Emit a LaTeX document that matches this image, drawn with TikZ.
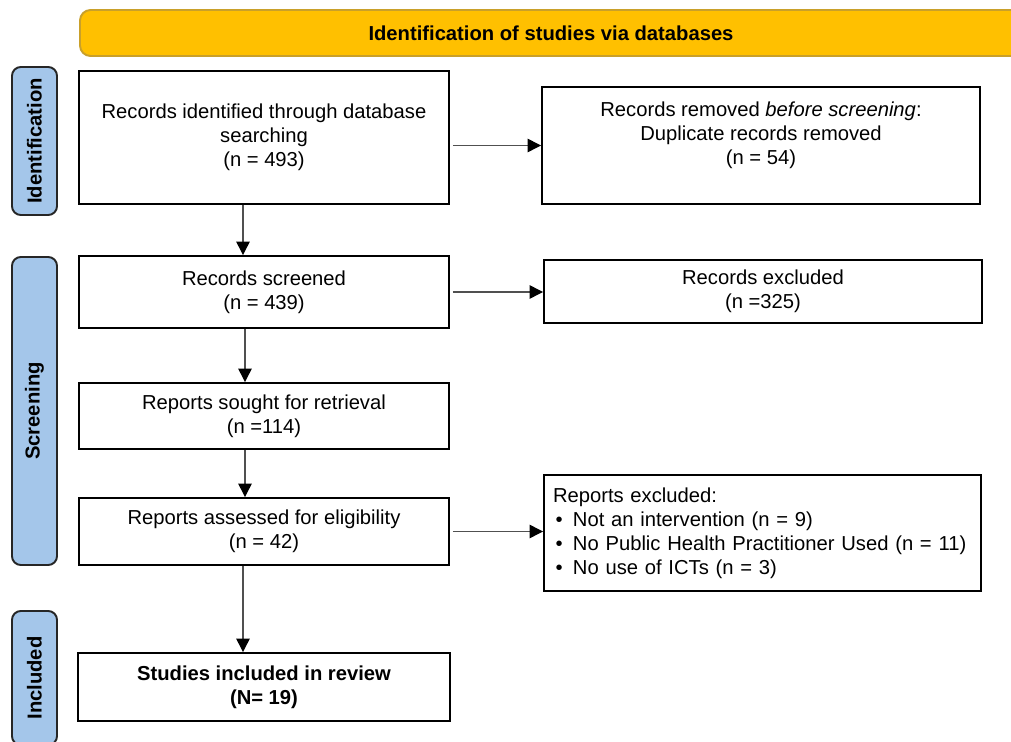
\documentclass[tikz,border=0pt]{standalone}
\usepackage{fontspec}
\setmainfont{Liberation Sans}
\usepackage{xcolor}
\usetikzlibrary{arrows.meta, positioning, calc}
\definecolor{bannerfill}{HTML}{FFC000}
\definecolor{bannerline}{HTML}{C9A02A}
\definecolor{phasefill}{HTML}{A4C6EA}
\definecolor{arrline}{HTML}{505050}

\begin{document}
\begin{tikzpicture}[
        font=\fontsize{11.5}{13.7}\selectfont,
        box/.style={draw=black, line width=1.1pt, fill=white, align=center, inner sep=0pt},
        phase/.style={draw=black!85, line width=1.1pt, fill=phasefill, rounded corners=5pt, rotate=90,
            minimum height=0.9cm, font=\fontsize{11.5}{13.7}\selectfont\bfseries},
        banner/.style={draw=bannerline, line width=1.1pt, fill=bannerfill, rounded corners=6pt,
            font=\fontsize{11.5}{13.7}\selectfont\bfseries},
        arr/.style={draw=arrline, line width=0.8pt, -{Triangle[length=2.7mm, width=2.7mm, color=black]}}
    ]
        \useasboundingbox (0,0) rectangle (20.22,-14.84);
        \clip (0,0) rectangle (20.22,-14.84);

        % header and phase bars
        \node[banner, minimum width=18.84cm, minimum height=0.92cm] (banner) at (11.02,-0.66) {Identification of studies via databases};
        \node[phase, minimum width=2.96cm] (idphase) at (0.69,-2.82) {Identification};
        \node[phase, minimum width=6.16cm] (scrphase) at (0.69,-8.22) {Screening};
        \node[phase, minimum width=2.68cm] (incphase) at (0.69,-13.56) {Included};

        % main column
        \node[box, minimum width=7.4cm, minimum height=2.66cm] (rec) at (5.28,-2.75) {Records identified through database\\searching\\(n = 493)};
        \node[box, minimum width=7.4cm, minimum height=1.44cm] (scr) at (5.28,-5.84) {Records screened\\(n = 439)};
        \node[box, minimum width=7.4cm, minimum height=1.32cm] (sought) at (5.28,-8.32) {Reports sought for retrieval\\(n =114)};
        \node[box, minimum width=7.4cm, minimum height=1.34cm] (assess) at (5.28,-10.63) {Reports assessed for eligibility\\(n = 42)};
        \node[box, minimum width=7.44cm, minimum height=1.36cm, font=\fontsize{11.5}{13.7}\selectfont\bfseries] (inc) at (5.28,-13.74) {Studies included in review\\(N= 19)};

        % side column
        \node[box, minimum width=8.76cm, minimum height=2.34cm] (dup) at (15.22,-2.91) {};
        \node[align=center] (duptext) at ([yshift=0.2cm]dup.center) {Records removed \textit{before screening}:\\Duplicate records removed\\(n = 54)};
        \node[box, minimum width=8.76cm, minimum height=1.26cm] (exc) at (15.26,-5.83) {Records excluded\\(n =325)};
        \node[box, minimum width=8.74cm, minimum height=2.32cm, align=left, text width=8.38cm] (rep) at (15.25,-10.66) {Reports excluded:\\
            \hspace*{0.05cm}\makebox[0.35cm][l]{\textbullet}Not an intervention (n = 9)\\
            \hspace*{0.05cm}\makebox[0.35cm][l]{\textbullet}No Public Health Practitioner Used (n = 11)\\
            \hspace*{0.05cm}\makebox[0.35cm][l]{\textbullet}No use of ICTs (n = 3)};

        % arrows
        \draw[arr] ([xshift=-4.2mm]rec.south) -- ([xshift=-4.2mm]scr.north);
        \draw[arr] ([xshift=-3.8mm]scr.south) -- ([xshift=-3.8mm]sought.north);
        \draw[arr] ([xshift=-3.8mm]sought.south) -- ([xshift=-3.8mm]assess.north);
        \draw[arr] ([xshift=-4.2mm]assess.south) -- ([xshift=-4.2mm]inc.north);
        \draw[arr, shorten <=0.6mm] (rec.east |- dup.west) -- (dup.west);
        \draw[arr, shorten <=0.6mm] (scr.east) -- (scr.east -| exc.west);
        \draw[arr, shorten <=0.6mm] (assess.east) -- (assess.east -| rep.west);
    \end{tikzpicture}
\end{document}
